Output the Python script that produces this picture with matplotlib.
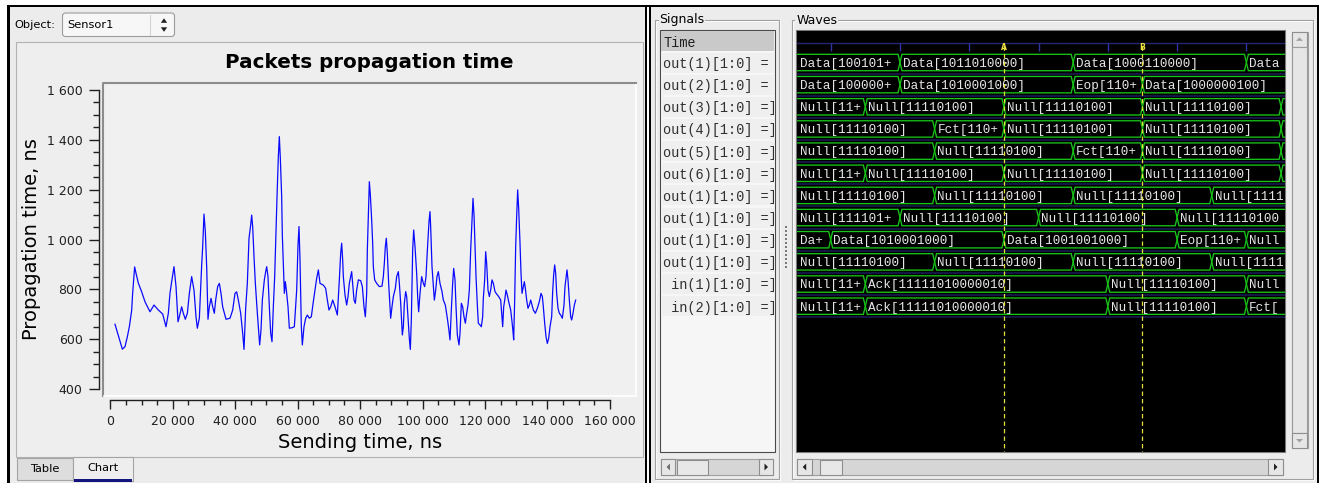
import matplotlib
matplotlib.use("Agg")
import matplotlib.pyplot as plt
from matplotlib.patches import Rectangle, Polygon, FancyBboxPatch
from matplotlib.ticker import FixedLocator, FuncFormatter

# packets propagation time (ns)
send_time = [
    1500, 3860, 4710, 5460, 6100, 6840, 7160, 7800, 8230, 8980,
    10050, 11120, 12720, 14000, 15390, 16770, 17840, 18590, 19120, 19660,
    20400, 21050, 21690, 22110, 22860, 23390, 24030, 24680, 25320, 26060,
    26810, 27450, 27880, 28520, 29270, 29590, 30010, 30440, 30870, 31290,
    31720, 32260, 32790, 33320, 33750, 34390, 34930, 35460, 35990, 37060,
    38340, 39200, 39940, 40480, 41010, 41760, 42400, 42830, 43360, 43890,
    44430, 44960, 45280, 45600, 46030, 46460, 47100, 47840, 48270, 48700,
    49340, 49770, 50090, 50510, 50940, 51370, 51790, 52220, 52650, 52970,
    53400, 53820, 54140, 54460, 54890, 55100, 55530, 55750, 56070, 56390,
    56920, 57350, 58200, 58950, 59700, 60120, 60440, 60760, 61190, 61510,
    62040, 62580, 63110, 63750, 64390, 65030, 65570, 66100, 66640, 67170,
    68240, 68980, 69520, 70050, 70590, 71230, 71970, 72720, 73360, 73790,
    74110, 74430,
    74640, 75180, 75710, 76140, 76560, 76990, 77310, 77630, 78060, 78480,
    78910, 79450, 80190, 80730, 81260, 81690, 82120, 82330, 82760, 82970,
    83290, 83720, 84040, 84250, 84680, 85320, 86170, 87030, 87450, 87770,
    88090, 88410, 88730, 89160, 89590, 89800, 90230, 90660, 91300, 91720,
    92260, 92580, 93010, 93330, 93540, 93860, 94180, 94610, 94930, 95350,
    95780, 96100, 96420, 96850, 97170, 97600, 98130, 98450, 98770, 99200,
    99730, 100270, 100690, 101120, 101440, 101760, 102080, 102400, 102610, 103040,
    103470, 103790, 104220, 104640, 105070, 105600, 106250, 106670, 107310, 107950,
    108380, 108810, 109230, 109660, 109980, 110410, 110730, 111160, 111690, 112010,
    112440, 112860, 113290, 113720, 114150, 114570, 115000, 115430, 115850, 116170,
    116500, 116820, 117140, 117560, 117880, 118420, 118840, 119270, 119480, 119910,
    120230, 120550, 120980, 121410, 121830, 122260, 122690, 123220, 123760, 124400,
    125040, 125360, 125680, 126000, 126420, 126740, 127170, 127600, 128240, 128670,
    128990, 129200, 129520, 129840, 130160, 130480, 130800, 131230, 131550, 131870,
    132300, 132620, 132940, 133360, 133790, 134220, 134650, 135070, 135500, 136140,
    136780, 137420, 137960, 138380, 138700, 139130, 139560, 139980, 140410, 140840,
    141370, 141690, 142010, 142330, 142650, 142970, 143400, 143830, 144260, 144790,
    145320, 145640, 145960, 146280, 146600, 147030, 147460, 147780, 148210, 148630,
    149060,
]
prop_time = [
    660, 560, 570, 610, 650, 715, 785, 890, 865, 825,
    790, 750, 710, 737, 717, 701, 650, 704, 784, 831,
    891, 811, 670, 690, 730, 704, 680, 704, 784, 851,
    797, 690, 644, 684, 898, 971, 1102, 1031, 891, 680,
    730, 764, 730, 704, 757, 811, 824, 784, 730, 680,
    684, 717, 784, 790, 757, 704, 624, 559, 724, 824,
    1005, 1058, 1098, 1052, 931, 824, 704, 577, 637, 757,
    838, 871, 891, 851, 730, 624, 590, 730, 851, 991,
    1172, 1332, 1413, 1326, 1172, 1018, 864, 784, 831, 797,
    730, 644, 646, 650, 797, 978, 1052, 918, 650, 577,
    650, 684, 697, 684, 690, 751, 797, 844, 878, 824,
    817, 804, 757, 717, 730, 757, 730, 697, 838, 945,
    985, 918,
    851, 777, 737, 771, 824, 851, 871, 824, 757, 744,
    797, 838, 835, 811, 730, 690, 784, 958, 1145, 1232,
    1179, 1078, 985, 891, 838, 824, 811, 813, 851, 904,
    971, 1005, 945, 824, 730, 684, 730, 771, 804, 851,
    871, 824, 744, 664, 617, 650, 744, 791, 771, 690,
    603, 559, 677, 958, 1038, 971, 864, 771, 710, 784,
    851, 824, 811, 851, 931, 998, 1072, 1112, 1052, 891,
    811, 757, 797, 851, 871, 824, 791, 757, 737, 684,
    644, 597, 717, 824, 884, 838, 730, 617, 577, 624,
    744, 730, 690, 664, 704, 737, 797, 958, 1078, 1165,
    1098, 971, 851, 737, 664, 657, 650, 690, 764, 838,
    951, 904, 797, 771, 797, 838, 824, 791, 781, 771,
    757, 704, 650, 730, 764, 797, 777, 751, 717, 670,
    630, 597, 757, 971, 1092, 1199, 1125, 985, 864, 784,
    811, 831, 804, 757, 724, 737, 757, 737, 717, 704,
    724, 751, 784, 771, 730, 664, 610, 583, 603, 650,
    690, 791, 858, 898, 864, 784, 724, 704, 697, 684,
    737, 811, 844, 878, 838, 757, 690, 677, 704, 737,
    757,
]

# waveform viewer: signal rows, bus segment edges (time units) and values
signal_names = [
    "out(1)[1:0] =", "out(2)[1:0] =", "out(3)[1:0] =]", "out(4)[1:0] =]",
    "out(5)[1:0] =]", "out(6)[1:0] =]", "out(1)[1:0] =]", "out(1)[1:0] =]",
    "out(1)[1:0] =]", "out(1)[1:0] =]", " in(1)[1:0] =]", " in(2)[1:0] =]",
]
wave_edges = [
    [-5, 20, 45, 70, 95],
    [-5, 20, 45, 55, 95],
    [-5, 15, 35, 55, 75, 95],
    [-5, 25, 35, 55, 75, 95],
    [-5, 25, 45, 55, 75, 95],
    [-5, 15, 35, 55, 75, 95],
    [-5, 25, 45, 65, 95],
    [-5, 20, 40, 60, 95],
    [-5, 10, 35, 60, 70, 95],
    [-5, 25, 45, 65, 95],
    [-5, 15, 50, 70, 95],
    [-5, 15, 50, 70, 95],
]
wave_values = [
    ["Data[100101+", "Data[1011010000]", "Data[1000110000]", "Data[1001000000]"],
    ["Data[100000+", "Data[1010001000]", "Eop[110+", "Data[1000000100]"],
    ["Null[11+", "Null[11110100]", "Null[11110100]", "Null[11110100]", "Null[11110100]"],
    ["Null[11110100]", "Fct[110+", "Null[11110100]", "Null[11110100]", "Null[11110100]"],
    ["Null[11110100]", "Null[11110100]", "Fct[110+", "Null[11110100]", "Null[11110100]"],
    ["Null[11+", "Null[11110100]", "Null[11110100]", "Null[11110100]", "Null[11110100]"],
    ["Null[11110100]", "Null[11110100]", "Null[11110100]", "Null[11110100]"],
    ["Null[111101+", "Null[11110100]", "Null[11110100]", "Null[11110100]"],
    ["Da+", "Data[1010001000]", "Data[1001001000]", "Eop[110+", "Null[11110100]"],
    ["Null[11110100]", "Null[11110100]", "Null[11110100]", "Null[11110100]"],
    ["Null[11+", "Ack[11111010000010]", "Null[11110100]", "Null[11110100]"],
    ["Null[11+", "Ack[11111010000010]", "Null[11110100]", "Fct[110+"],
]
time_ticks = [10, 20, 30, 40, 50, 60, 70]
cursor_times = [35, 55]
cursor_names = ["A", "B"]

W, H = 1324, 483
GUI = "#ececec"
MONO = ["Liberation Mono", "DejaVu Sans Mono"]
plt.rcParams["font.family"] = ["DejaVu Sans"]

fig = plt.figure(figsize=(W / 100, H / 100), dpi=100)
fig.patch.set_facecolor("white")
bg = fig.add_axes([0, 0, 1, 1])
bg.set_xlim(0, W)
bg.set_ylim(H, 0)
bg.axis("off")


def box(x0, y0, x1, y1, fc="none", ec="none", lw=0.8, z=1):
    bg.add_patch(Rectangle((x0, y0), x1 - x0, y1 - y0, fc=fc, ec=ec, lw=lw, zorder=z))


def tri(pts, color="#202020", z=4):
    bg.add_patch(Polygon(pts, closed=True, fc=color, ec="none", zorder=z))


def axes_px(x0, y0, x1, y1):
    return fig.add_axes([x0 / W, 1 - y1 / H, (x1 - x0) / W, (y1 - y0) / H])


def button(x0, y0, x1, y1, arrow, color="#202020"):
    box(x0, y0, x1, y1, fc="#e6e6e6", ec="#8e8e8e", z=3)
    cx, cy = (x0 + x1) / 2, (y0 + y1) / 2
    pts = {"l": [(cx + 2, cy - 3.5), (cx + 2, cy + 3.5), (cx - 1.5, cy)],
           "r": [(cx - 1.5, cy - 3.5), (cx - 1.5, cy + 3.5), (cx + 2, cy)],
           "u": [(cx - 3.5, cy + 1.5), (cx + 3.5, cy + 1.5), (cx, cy - 2)],
           "d": [(cx - 3.5, cy - 1.5), (cx + 3.5, cy - 1.5), (cx, cy + 2)]}[arrow]
    tri(pts, color)


# window backgrounds and black frames
box(10, 7.3, 644.8, H, fc=GUI, z=0)
box(650.8, 7.3, 1317, H, fc=GUI, z=0)
for x0, y0, x1, y1 in [(7.3, 5, 1319.3, 7.3), (7.3, 5, 10, H), (644.8, 5, 647.3, H),
                       (649, 5, 650.8, H), (1317, 5, 1319.3, H)]:
    box(x0, y0, x1, y1, fc="black", z=5)

# ---- left: object selector, tab page, chart ----
bg.text(14.5, 25, "Object:", fontsize=8.2, va="center")
bg.add_patch(FancyBboxPatch((62.5, 13), 112, 23.5, boxstyle="round,pad=0,rounding_size=3",
                            fc="#f7f7f7", ec="#9c9c9c", lw=0.8, zorder=2))
bg.plot([150, 150], [15, 34.5], color="#d4d4d4", lw=0.8, zorder=3)
bg.text(67, 25, "Sensor1", fontsize=8.2, va="center", zorder=3)
tri([(160.8, 22.8), (167.2, 22.8), (164, 18.3)])
tri([(160.8, 27.3), (167.2, 27.3), (164, 31.8)])

box(15.6, 41.7, 642.7, 457, fc="#eeeeee", ec="#b2b2b2", z=1)
box(103, 83.3, 635.5, 395.7, fc="#f0f0f0", z=2)
bg.plot([103, 103, 635.5], [395.7, 83.3, 83.3], color="#8c8c8c", lw=1.5, zorder=3)
bg.plot([104, 635.5, 635.5], [395.9, 395.9, 84.5], color="white", lw=1.2, zorder=3)

box(16.7, 458, 72.7, 479.7, fc="#dddddd", ec="#a4a4a4", z=2)
bg.text(44.7, 469.5, "Table", fontsize=8.2, ha="center", va="center", zorder=3)
box(73.3, 456.6, 132.7, 480.5, fc="#eeeeee", ec="#a4a4a4", z=2)
box(74, 479.3, 132.2, 482.2, fc="#14147f", z=3)
bg.text(103, 468, "Chart", fontsize=8.2, ha="center", va="center", zorder=3)

bg.text(369, 63, "Packets propagation time", fontsize=14.3, fontweight="bold",
        ha="center", va="center")
bg.text(31.5, 239, "Propagation time, ns", fontsize=14, rotation=90,
        ha="center", va="center")
bg.text(360, 442, "Sending time, ns", fontsize=14, ha="center", va="center")

ax = axes_px(103, 83.3, 635.5, 395.7)
ax.patch.set_visible(False)
ax.plot(send_time, prop_time, color="#0a0aff", lw=0.9)
ax.set_xlim(-2338, 168221)
ax.set_ylim(373.2, 1626.9)
for side in ["top", "right"]:
    ax.spines[side].set_visible(False)
ax.spines["left"].set_position(("outward", 3.0))
ax.spines["left"].set_bounds(400, 1600)
ax.spines["bottom"].set_position(("outward", 3.1))
ax.spines["bottom"].set_bounds(0, 160000)
for side in ["left", "bottom"]:
    ax.spines[side].set_color("#202020")
    ax.spines[side].set_linewidth(1.0)
ax.xaxis.set_major_locator(FixedLocator(range(0, 160001, 20000)))
ax.xaxis.set_minor_locator(FixedLocator(range(0, 160001, 5000)))
ax.yaxis.set_major_locator(FixedLocator(range(400, 1601, 200)))
ax.yaxis.set_minor_locator(FixedLocator(range(400, 1601, 50)))
fmt = FuncFormatter(lambda v, p: f"{v:,.0f}".replace(",", " "))
ax.xaxis.set_major_formatter(fmt)
ax.yaxis.set_major_formatter(fmt)
ax.tick_params(axis="x", which="major", length=6.5, width=1, pad=4.5, labelsize=9,
               color="#202020", labelcolor="#202020")
ax.tick_params(axis="x", which="minor", length=3.6, width=1, color="#202020")
ax.tick_params(axis="y", which="major", length=7.2, width=1, pad=4.5, labelsize=9,
               color="#202020", labelcolor="#202020")
ax.tick_params(axis="y", which="minor", length=4.3, width=1, color="#202020")

# ---- right: signals list ----
def groupbox(x0, y0, x1, y1, label):
    box(x0 + 1, y0 + 1, x1 + 1, y1 + 1, ec="white", z=1)
    box(x0, y0, x1, y1, ec="#a0a0a0", z=1)
    bg.text(x0 + 4.5, y0, label, fontsize=9, va="center", zorder=2,
            bbox=dict(fc=GUI, ec="none", pad=0.5))


groupbox(655, 20, 779, 479, "Signals")
groupbox(791.7, 20, 1313, 479, "Waves")

box(660, 30, 775, 451.5, fc="#f6f6f6", ec="#4a4a4a", z=2)
box(660.6, 31.2, 774.4, 51, fc="#c9c9c9", z=3)
row_px = [62.5 + 22.15 * i for i in range(len(signal_names))]
for yc in row_px:
    box(661, yc - 10, 774, yc + 10, fc="#efefef", z=3)

lax = axes_px(660.6, 30.6, 774.4, 451)
lax.set_xlim(660.6, 774.4)
lax.set_ylim(451, 30.6)
lax.axis("off")
lax.text(663.3, 42.5, "Time", family=MONO, fontsize=9.8, va="center",
         color="#202020", clip_on=True)
for yc, name in zip(row_px, signal_names):
    lax.text(663.3, yc + 1.5, name, family=MONO, fontsize=9.8, va="center",
             color="#303030", clip_on=True)

box(661, 459, 773, 475, fc="#d6d6d6", ec="#a0a0a0", z=2)
button(661, 459, 675, 475, "l", "#707070")
box(676.7, 459.5, 708, 474.5, fc="#e8e8e8", ec="#8e8e8e", z=3)
button(759, 459, 773, 475, "r")

for yy in range(226, 268, 4):
    box(785.4, yy, 787.2, yy + 1.8, fc="#7a7a7a", z=2)

# ---- right: waves ----
box(796.2, 29.6, 1285, 452.2, fc="black", ec="#7a7a7a", z=2)
box(1291.5, 31.7, 1307.5, 448, fc="#d8d8d8", ec="#a0a0a0", z=2)
button(1292, 32, 1307, 46.7, "u", "#a0a0a0")
box(1292, 47, 1307, 432.7, fc="#e6e6e6", ec="#9a9a9a", z=3)
button(1292, 433, 1307, 448, "d", "#a0a0a0")
box(796.7, 459, 1283, 475, fc="#d6d6d6", ec="#a0a0a0", z=2)
button(796.7, 459, 811.7, 475, "l")
box(820, 459.5, 842.3, 474.5, fc="#e8e8e8", ec="#8e8e8e", z=3)
button(1268, 459, 1283, 475, "r")

wax_px = (797, 30.5, 1284.5, 451.5)
wax = axes_px(*wax_px)
wax.set_facecolor("black")
for s in wax.spines.values():
    s.set_visible(False)
wax.set_xticks([])
wax.set_yticks([])
t_left, t_right = 5.14, 75.5
wax.set_xlim(t_left, t_right)
wax.set_ylim(17.56, -1.445)

wax.axhline(-0.867, color="#262670", lw=1.0)
wax.vlines(time_ticks, -0.867, -0.52, color="#3434a0", lw=1.0)
for k in range(len(signal_names)):
    wax.axhline(k + 0.5, color="#1c1c58", lw=1.1)

# the viewer cuts a value to the characters that fit in the visible window
wave_fs = 9.1
px_per_t = (wax_px[2] - wax_px[0]) / (t_right - t_left)
char_px = 0.6 * wave_fs * 100 / 72
half, slant = 0.37, 0.28
for r, (edges, vals) in enumerate(zip(wave_edges, wave_values)):
    for t0, t1, val in zip(edges[:-1], edges[1:], vals):
        pts = [(t0, r), (t0 + slant, r - half), (t1 - slant, r - half),
               (t1, r), (t1 - slant, r + half), (t0 + slant, r + half)]
        wax.add_patch(Polygon(pts, closed=True, fill=False, ec="#19c419", lw=0.95))
        tx = max(t0, t_left) + 0.4
        n_fit = int((t_right - tx) * px_per_t / char_px)
        if n_fit < 1:
            continue
        wax.text(tx, r + 0.06, val[:n_fit], family=MONO, fontsize=wave_fs,
                 color="#e6e6e6", va="center", clip_on=True)

wax.vlines(cursor_times, -0.74, 17.6, colors="#e2e23a", lw=0.9,
           linestyles=(0, (3.5, 2.5)), zorder=5)
for t, name in zip(cursor_times, cursor_names):
    wax.text(t, -0.68, name, fontsize=5.5, fontweight="bold", color="#f0e040",
             ha="center", va="center", zorder=6)

fig.savefig("out.png", dpi=100, facecolor="white")
